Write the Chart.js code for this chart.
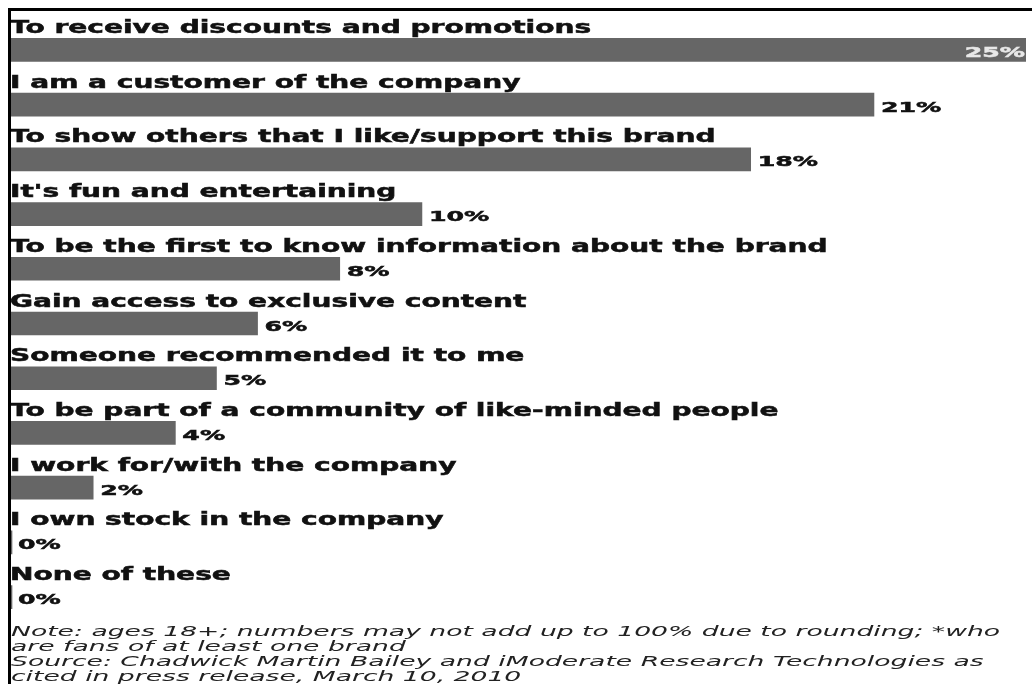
<!DOCTYPE html>
<html>
<head>
<meta charset="utf-8">
<script src="https://cdn.jsdelivr.net/npm/chart.js@4.4.6/dist/chart.umd.min.js"></script>
<style>
  html, body { margin: 0; padding: 0; background: #fff; }
  #wrap { position: relative; width: 1032px; height: 684px; overflow: hidden; }
  #frame {
    position: absolute; left: 8px; top: 8px; width: 1030px; height: 690px;
    border-top: 3px solid #000; border-left: 3px solid #000; pointer-events: none;
  }
  #note {
    position: absolute; left: 11px; top: 624px; white-space: nowrap;
    font: italic 14px/15px "DejaVu Sans", sans-serif; color: #222;
    transform: scaleX(1.9); transform-origin: 0 0;
  }
</style>
</head>
<body>
<div id="wrap">
  <canvas id="chart" width="1032" height="684"></canvas>
  <div id="frame"></div>
  <div id="note">
    Note: ages 18+; numbers may not add up to 100% due to rounding; *who<br>
    are fans of at least one brand<br>
    Source: Chadwick Martin Bailey and iModerate Research Technologies as<br>
    cited in press release, March 10, 2010
  </div>
</div>
<script>
// reasons for liking a brand on Facebook, share of respondents (%)
const reasons = [
  'To receive discounts and promotions',
  'I am a customer of the company',
  'To show others that I like/support this brand',
  "It's fun and entertaining",
  'To be the first to know information about the brand',
  'Gain access to exclusive content',
  'Someone recommended it to me',
  'To be part of a community of like-minded people',
  'I work for/with the company',
  'I own stock in the company',
  'None of these',
];
const shares = [25, 21, 18, 10, 8, 6, 5, 4, 2, 0, 0];

const BAR_COLOR = '#666666';
const CAT_FONT = 'bold 17px "DejaVu Sans", sans-serif';
const VAL_FONT = 'bold 14px "DejaVu Sans", sans-serif';
const CAT_STRETCH = 1.65;
const VAL_STRETCH = 1.8;

// the source art uses a very wide face; approximate it by stretching x
function stretchedText(ctx, text, px, py, font, sx, color, align) {
  ctx.save();
  ctx.font = font;
  ctx.fillStyle = color;
  ctx.strokeStyle = color;
  ctx.lineWidth = 0.5;
  ctx.textAlign = align;
  ctx.textBaseline = 'alphabetic';
  ctx.translate(px, py);
  ctx.scale(sx, 1);
  ctx.fillText(text, 0, 0);
  ctx.strokeText(text, 0, 0);
  ctx.restore();
}

const rowLabels = {
  id: 'rowLabels',
  afterDatasetsDraw(chart) {
    const { ctx, scales: { x, y } } = chart;
    reasons.forEach((label, i) => {
      const cy = y.getPixelForValue(i);
      stretchedText(ctx, label, x.left - 1, cy - 17, CAT_FONT, CAT_STRETCH, '#111', 'left');
      const end = Math.min(x.getPixelForValue(shares[i]), x.right);
      const txt = shares[i] + '%';
      if (end > x.right - 80) {
        stretchedText(ctx, txt, end - 1, cy + 7, VAL_FONT, VAL_STRETCH, '#e8e8e8', 'right');
      } else {
        stretchedText(ctx, txt, end + 7, cy + 7, VAL_FONT, VAL_STRETCH, '#111', 'left');
      }
    });
  },
};

new Chart(document.getElementById('chart'), {
  type: 'bar',
  data: {
    labels: reasons,
    datasets: [{
      data: shares,
      backgroundColor: BAR_COLOR,
      borderWidth: 0,
      barThickness: 23,
      minBarLength: 1,
    }],
  },
  options: {
    indexAxis: 'y',
    responsive: false,
    devicePixelRatio: 1,
    animation: false,
    layout: { padding: { left: 11, right: 6, top: 22.6, bottom: 59.6 } },
    plugins: { legend: { display: false }, tooltip: { enabled: false } },
    scales: {
      x: { display: false, min: 0, max: 24.7 },
      y: { display: false, offset: true },
    },
  },
  plugins: [rowLabels],
});
</script>
</body>
</html>
